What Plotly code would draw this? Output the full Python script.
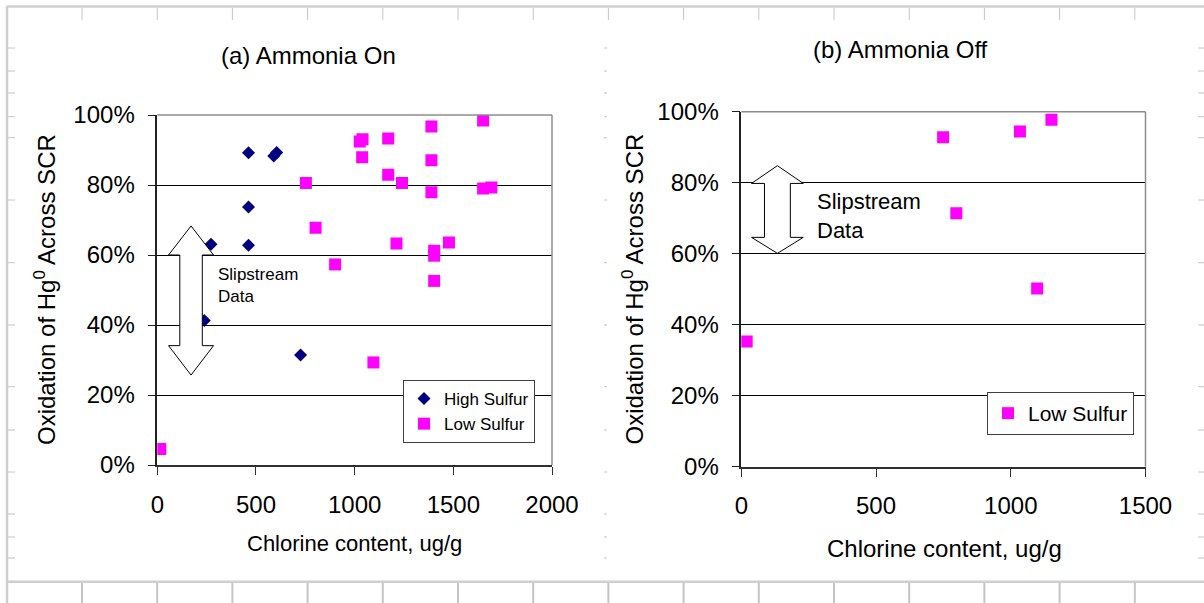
import plotly.graph_objects as go

W, H = 1204, 603
FONT = "Liberation Sans, Arial, sans-serif"

# (a) Ammonia on - high-sulfur coals: chlorine (ug/g) vs Hg0 oxidation across SCR
hs_on_cl = [462, 590, 605, 462, 462, 272, 238, 726]
hs_on_ox = [0.892, 0.883, 0.893, 0.737, 0.628, 0.631, 0.413, 0.314]

# (a) Ammonia on - low-sulfur coals
ls_on_cl = [1651, 1389, 1026, 1040, 1170, 1038, 1389, 1170, 1240, 753, 1389,
            1651, 1693, 802, 1212, 1478, 1403, 1403, 901, 1403, 1095, 15]
ls_on_ox = [0.984, 0.967, 0.924, 0.931, 0.933, 0.879, 0.871, 0.829, 0.806, 0.806, 0.779,
            0.790, 0.793, 0.678, 0.633, 0.636, 0.612, 0.598, 0.573, 0.526, 0.293, 0.046]

# (b) Ammonia off - low-sulfur coals
ls_off_cl = [20, 749, 798, 1034, 1098, 1151]
ls_off_ox = [0.353, 0.928, 0.714, 0.944, 0.502, 0.977]

# Slipstream data ranges (oxidation fraction) shown as up/down arrows
slip_on = (0.257, 0.683)
slip_off = (0.601, 0.848)

y_ticks = [0, 0.2, 0.4, 0.6, 0.8, 1.0]
x_ticks_on = [0, 500, 1000, 1500, 2000]
x_ticks_off = [0, 500, 1000, 1500]

NAVY = "#000080"
MAGENTA = "#FF00FF"
SHEET = "#c4c4c4"


def fx(p):
    return p / W


def fy(p):
    return 1 - p / H


fig = go.Figure()
fig.add_trace(go.Scatter(
    x=hs_on_cl, y=hs_on_ox, mode="markers", name="High Sulfur",
    marker=dict(symbol="diamond", size=10, color=NAVY, line=dict(width=0)),
    xaxis="x", yaxis="y", legend="legend"))
fig.add_trace(go.Scatter(
    x=ls_on_cl, y=ls_on_ox, mode="markers", name="Low Sulfur",
    marker=dict(symbol="square", size=12, color=MAGENTA, line=dict(width=0)),
    xaxis="x", yaxis="y", legend="legend"))
fig.add_trace(go.Scatter(
    x=ls_off_cl, y=ls_off_ox, mode="markers", name="Low Sulfur",
    marker=dict(symbol="square", size=12, color=MAGENTA, line=dict(width=0)),
    xaxis="x2", yaxis="y2", legend="legend2"))

tickfont = dict(size=24, color="black", family=FONT)
yax = dict(range=[0, 1], tickvals=y_ticks, tickformat=".0%", showgrid=True,
           gridcolor="black", gridwidth=1, showline=True, linecolor="#202020",
           linewidth=1.5, ticks="outside", ticklen=8, tickcolor="#202020",
           tickfont=tickfont, zeroline=False, fixedrange=True,
           ticklabelstandoff=8, automargin=False)
xax = dict(showgrid=False, showline=True, linecolor="#303030", linewidth=1.8,
           ticks="outside", ticklen=8, tickcolor="#303030", tickfont=tickfont,
           zeroline=False, fixedrange=True, ticklabelstandoff=9, automargin=False)

fig.update_layout(
    width=W, height=H, autosize=False,
    margin=dict(l=0, r=0, t=0, b=0, pad=0, autoexpand=False),
    paper_bgcolor="white", plot_bgcolor="white",
    font=dict(family=FONT, color="black"),
    xaxis=dict(xax, domain=[fx(157.3), fx(552)], range=[0, 2000],
               tickvals=x_ticks_on, anchor="y"),
    yaxis=dict(yax, domain=[fy(465), fy(115)], anchor="x"),
    xaxis2=dict(xax, domain=[fx(741.3), fx(1145.5)], range=[0, 1500],
                tickvals=x_ticks_off, anchor="y2"),
    yaxis2=dict(yax, domain=[fy(466.7), fy(111.7)], anchor="x2"),
    legend=dict(x=fx(535), y=fy(380), xanchor="right", yanchor="top",
                bgcolor="white", bordercolor="#404040", borderwidth=1,
                font=dict(size=17, family=FONT, color="black"),
                itemwidth=30, tracegroupgap=0),
    legend2=dict(x=fx(1134), y=fy(392), xanchor="right", yanchor="top",
                 bgcolor="white", bordercolor="#404040", borderwidth=1,
                 font=dict(size=21, family=FONT, color="black"),
                 itemwidth=30),
    showlegend=True,
)

shapes = []

# spreadsheet frame and cell gridlines around the chart objects
line_sheet = dict(color=SHEET, width=1)
frame = dict(color="#cfcfcf", width=2.5)
shapes.append(dict(type="line", xref="paper", yref="paper", x0=fx(7), x1=1,
                   y0=fy(6.5), y1=fy(6.5), line=frame, layer="below"))
shapes.append(dict(type="line", xref="paper", yref="paper", x0=fx(7), x1=1,
                   y0=fy(581.7), y1=fy(581.7), line=frame, layer="below"))
shapes.append(dict(type="line", xref="paper", yref="paper", x0=fx(7), x1=fx(7),
                   y0=fy(6), y1=0, line=frame, layer="below"))
col_x = [82 + 75.2 * k for k in range(15)]
row_y = [48, 71, 93, 116.7, 137.7, 200, 262.7, 325, 386.7, 430, 472, 514, 537, 558]
for cx in col_x:
    shapes.append(dict(type="line", xref="paper", yref="paper", x0=fx(cx), x1=fx(cx),
                       y0=fy(8), y1=fy(20), line=line_sheet, layer="below"))
    shapes.append(dict(type="line", xref="paper", yref="paper", x0=fx(cx), x1=fx(cx),
                       y0=fy(583), y1=0, line=dict(color=SHEET, width=2), layer="below"))
for ry in row_y:
    shapes.append(dict(type="line", xref="paper", yref="paper", x0=fx(8), x1=fx(15),
                       y0=fy(ry), y1=fy(ry), line=line_sheet, layer="below"))
    shapes.append(dict(type="line", xref="paper", yref="paper", x0=fx(1198), x1=1,
                       y0=fy(ry), y1=fy(ry), line=line_sheet, layer="below"))
    shapes.append(dict(type="line", xref="paper", yref="paper", x0=fx(604), x1=fx(607),
                       y0=fy(ry), y1=fy(ry), line=line_sheet, layer="below"))

# gray plot-area border on top and right edges
for xr, yr in (("x", "y"), ("x2", "y2")):
    shapes.append(dict(type="line", xref=f"{xr} domain", yref=f"{yr} domain",
                       x0=0, x1=1, y0=1, y1=1, line=dict(color="#8c8c8c", width=1.5)))
    shapes.append(dict(type="line", xref=f"{xr} domain", yref=f"{yr} domain",
                       x0=1, x1=1, y0=0, y1=1, line=dict(color="#8c8c8c", width=1.5)))


def updown_arrow(xref, yref, xc, y_lo, y_hi, head_lo, head_hi, head_half, shaft_half):
    pts = [(xc, y_hi), (xc + head_half, head_hi), (xc + shaft_half, head_hi),
           (xc + shaft_half, head_lo), (xc + head_half, head_lo), (xc, y_lo),
           (xc - head_half, head_lo), (xc - shaft_half, head_lo),
           (xc - shaft_half, head_hi), (xc - head_half, head_hi)]
    path = "M " + " L ".join(f"{a},{b}" for a, b in pts) + " Z"
    return dict(type="path", xref=xref, yref=yref, path=path, fillcolor="white",
                line=dict(color="black", width=1), layer="above")


shapes.append(updown_arrow("x", "y", 171, slip_on[0], slip_on[1], 0.341, 0.600, 114, 57))
shapes.append(updown_arrow("x2", "y2", 134, slip_off[0], slip_off[1], 0.646, 0.798, 96, 48))

fig.update_layout(shapes=shapes)

ann = []


def text(t, x, y, size, **kw):
    d = dict(text=t, xref="paper", yref="paper", x=fx(x), y=fy(y), showarrow=False,
             font=dict(size=size, family=FONT, color="black"),
             xanchor="center", yanchor="middle")
    d.update(kw)
    ann.append(d)


text("(a) Ammonia On", 308, 55, 24)
text("(b) Ammonia Off", 900, 50, 24)
ytitle = "Oxidation of Hg<sup>0</sup> Across SCR"
text(ytitle, 45, 290, 24, textangle=-90)
text(ytitle, 632.5, 289, 24, textangle=-90)
text("Chlorine content, ug/g", 354, 543, 22)
text("Chlorine content, ug/g", 944, 548, 24)
text("Slipstream<br>Data", 216, 285, 17, xanchor="left", align="left")
text("Slipstream<br>Data", 815, 216, 22, xanchor="left", align="left")

fig.update_layout(annotations=ann)

fig.write_html("out.html")
